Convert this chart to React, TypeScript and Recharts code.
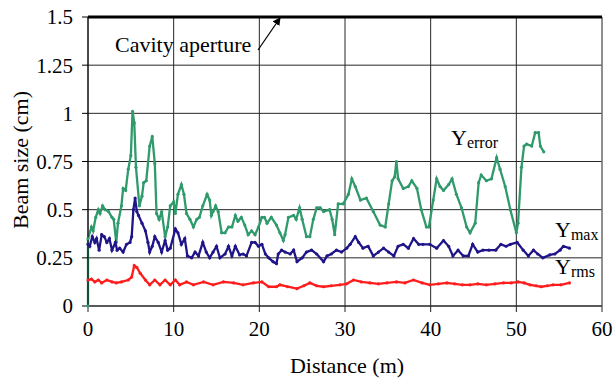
import { CartesianGrid, Line, LineChart, ReferenceLine, XAxis, YAxis } from "recharts";

const W = 615;
const H = 379;
const FONT = "Liberation Serif, Times New Roman, serif";

const xTicks = [0, 10, 20, 30, 40, 50, 60];
const yTicks = [0, 0.25, 0.5, 0.75, 1, 1.25, 1.5];
const cavityAperture = 1.5;

// [distance (m), beam size (cm)]
const yError: [number, number][] = [
  [0, 0], [0, 0.35], [0.4, 0.41], [0.6, 0.39], [0.9, 0.46], [1.2, 0.5], [1.4, 0.48], [1.7, 0.52],
  [2.0, 0.5], [2.4, 0.49], [2.8, 0.46], [3.0, 0.45], [3.3, 0.33], [3.5, 0.43], [3.9, 0.52], [4.1, 0.61],
  [4.4, 0.6], [4.7, 0.71], [5.0, 0.78], [5.2, 1.01], [5.4, 0.95], [5.6, 0.72], [6.0, 0.52], [6.3, 0.57],
  [6.5, 0.64], [6.8, 0.65], [7.2, 0.83], [7.5, 0.88], [7.8, 0.74], [8.0, 0.48], [8.3, 0.45], [8.6, 0.49],
  [9.0, 0.36], [9.3, 0.41], [9.6, 0.52], [10.0, 0.54], [10.2, 0.48], [10.5, 0.58], [10.9, 0.63], [11.2, 0.58],
  [11.5, 0.48], [11.9, 0.45], [12.3, 0.41], [12.7, 0.45], [13.0, 0.46], [13.4, 0.52], [13.9, 0.58], [14.2, 0.55],
  [14.4, 0.47], [14.6, 0.49], [14.9, 0.52], [15.2, 0.49], [15.6, 0.38], [16.0, 0.38], [16.4, 0.41], [16.8, 0.41],
  [17.2, 0.47], [17.5, 0.44], [17.9, 0.46], [18.3, 0.42], [18.7, 0.37], [19.1, 0.39], [19.5, 0.37], [19.9, 0.41],
  [20.3, 0.46], [20.6, 0.46], [20.9, 0.43], [21.4, 0.46], [22.0, 0.42], [22.4, 0.38], [22.8, 0.34], [23.0, 0.37],
  [23.4, 0.46], [24.0, 0.47], [24.3, 0.45], [24.7, 0.51], [25.0, 0.45], [25.5, 0.36], [25.9, 0.36], [26.3, 0.45],
  [26.7, 0.51], [27.1, 0.51], [27.5, 0.49], [28.2, 0.5], [28.5, 0.45], [28.8, 0.37], [29.2, 0.53], [29.8, 0.53],
  [30.4, 0.58], [30.8, 0.66], [31.2, 0.62], [31.8, 0.55], [32.5, 0.56], [33.3, 0.49], [34.1, 0.42], [34.7, 0.41],
  [35.1, 0.53], [35.5, 0.65], [35.8, 0.67], [36.0, 0.75], [36.2, 0.66], [36.8, 0.61], [37.4, 0.62], [37.8, 0.65],
  [38.4, 0.61], [38.9, 0.5], [39.5, 0.41], [39.8, 0.41], [40.3, 0.55], [40.7, 0.66], [41.1, 0.62], [41.5, 0.6],
  [42.1, 0.63], [42.5, 0.66], [43.0, 0.58], [43.6, 0.51], [44.2, 0.41], [44.6, 0.38], [45.2, 0.43], [45.6, 0.64],
  [45.9, 0.68], [46.5, 0.65], [47.1, 0.66], [47.7, 0.77], [48.1, 0.71], [48.7, 0.62], [49.3, 0.5], [50.0, 0.38],
  [50.2, 0.43], [50.6, 0.72], [50.9, 0.83], [51.2, 0.84], [51.8, 0.83], [52.2, 0.9], [52.6, 0.9], [52.8, 0.83],
  [53.2, 0.8],
];

const yMax: [number, number][] = [
  [0, 0.32], [0.2, 0.31], [0.5, 0.36], [0.8, 0.33], [1.0, 0.35], [1.3, 0.29], [1.6, 0.37], [1.9, 0.36],
  [2.2, 0.33], [2.5, 0.35], [2.8, 0.29], [3.2, 0.33], [3.4, 0.29], [3.7, 0.3], [4.1, 0.28], [4.5, 0.32],
  [4.9, 0.33], [5.1, 0.36], [5.3, 0.5], [5.5, 0.56], [5.7, 0.49], [5.9, 0.47], [6.3, 0.43], [6.7, 0.39],
  [7.0, 0.33], [7.2, 0.28], [7.5, 0.31], [7.8, 0.36], [8.2, 0.33], [8.6, 0.28], [9.0, 0.34], [9.3, 0.29],
  [9.6, 0.3], [10.2, 0.4], [10.5, 0.38], [10.9, 0.32], [11.3, 0.35], [11.6, 0.26], [12.1, 0.25], [12.5, 0.28],
  [12.9, 0.26], [13.4, 0.33], [13.8, 0.28], [14.2, 0.25], [14.6, 0.28], [15.0, 0.31], [15.4, 0.25], [16.0, 0.27],
  [16.4, 0.31], [16.8, 0.26], [17.2, 0.31], [17.7, 0.265], [18.1, 0.27], [18.5, 0.26], [19.1, 0.33], [19.5, 0.33],
  [19.9, 0.31], [20.3, 0.32], [20.7, 0.27], [21.1, 0.25], [21.6, 0.23], [22.0, 0.22], [22.2, 0.27], [22.6, 0.29],
  [23.0, 0.28], [23.6, 0.27], [24.0, 0.29], [24.4, 0.23], [25.0, 0.25], [25.5, 0.28], [26.1, 0.29], [26.7, 0.27],
  [27.5, 0.23], [27.9, 0.26], [28.4, 0.27], [29.0, 0.29], [29.6, 0.28], [30.2, 0.3], [30.6, 0.32], [31.2, 0.36],
  [31.6, 0.33], [32.1, 0.3], [32.7, 0.31], [33.3, 0.26], [33.9, 0.28], [34.5, 0.3], [35.1, 0.28], [35.7, 0.26],
  [36.2, 0.31], [36.8, 0.32], [37.4, 0.3], [38.0, 0.35], [38.6, 0.32], [39.1, 0.32], [39.9, 0.32], [40.7, 0.3],
  [41.5, 0.34], [42.1, 0.31], [42.6, 0.26], [43.2, 0.29], [43.8, 0.26], [44.4, 0.26], [44.9, 0.32], [45.5, 0.28],
  [46.1, 0.29], [46.8, 0.29], [47.6, 0.29], [48.2, 0.32], [48.8, 0.31], [49.3, 0.32], [50.1, 0.33], [50.8, 0.29],
  [51.4, 0.26], [52.0, 0.29], [52.5, 0.27], [53.1, 0.25], [53.9, 0.265], [54.5, 0.27], [55.1, 0.29], [55.5, 0.31],
  [56.2, 0.3],
];

const yRms: [number, number][] = [
  [0, 0.135], [0.4, 0.14], [0.8, 0.125], [1.2, 0.135], [1.6, 0.12], [2.2, 0.135], [2.8, 0.125], [3.3, 0.12],
  [3.9, 0.125], [4.7, 0.135], [5.1, 0.15], [5.4, 0.21], [5.7, 0.2], [6.1, 0.17], [6.7, 0.135], [7.2, 0.11],
  [7.8, 0.135], [8.4, 0.11], [9.0, 0.135], [9.6, 0.11], [10.2, 0.135], [10.7, 0.11], [11.5, 0.125], [12.3, 0.11],
  [13.5, 0.125], [14.6, 0.11], [15.8, 0.125], [17.0, 0.12], [18.1, 0.11], [19.3, 0.12], [20.3, 0.125], [21.1, 0.1],
  [22.0, 0.1], [22.4, 0.11], [23.3, 0.1], [24.4, 0.09], [25.2, 0.105], [25.9, 0.12], [26.7, 0.105], [27.5, 0.1],
  [28.4, 0.105], [29.4, 0.11], [30.2, 0.115], [31.0, 0.135], [31.9, 0.125], [32.9, 0.12], [33.9, 0.115], [34.9, 0.12],
  [36.0, 0.125], [37.0, 0.12], [38.0, 0.135], [39.0, 0.12], [39.9, 0.11], [40.9, 0.115], [41.9, 0.12], [42.8, 0.115],
  [43.7, 0.11], [44.6, 0.11], [45.5, 0.115], [46.5, 0.11], [47.5, 0.115], [48.5, 0.12], [49.4, 0.12], [50.2, 0.125],
  [50.9, 0.12], [51.6, 0.11], [52.3, 0.105], [52.9, 0.1], [53.6, 0.105], [54.3, 0.11], [55.2, 0.11], [56.2, 0.12],
];

const toPoints = (pts: [number, number][]) => pts.map(([d, v]) => ({ d, v }));

const GREEN = "#2f9a6b";
const BLUE = "#1f1488";
const RED = "#ff1c1c";

const series = [
  { name: "Yerror", pts: yError, color: GREEN },
  { name: "Ymax", pts: yMax, color: BLUE },
  { name: "Yrms", pts: yRms, color: RED },
];

export default function App() {
  const tick = { fill: "#000", fontSize: 21, fontFamily: FONT };
  return (
    <div
      style={{ position: "absolute", left: 0, top: 0, width: W, height: H, background: "#fff", fontFamily: FONT }}
    >
      <LineChart width={W} height={H} margin={{ top: 17, right: 13, bottom: 0, left: 0 }}>
        <CartesianGrid stroke="#262626" strokeWidth={1} />
        <XAxis
          type="number"
          dataKey="d"
          domain={[0, 60]}
          ticks={xTicks}
          interval={0}
          height={73}
          tick={tick}
          tickSize={6}
          tickMargin={9}
          axisLine={{ stroke: "#222" }}
          tickLine={{ stroke: "#222" }}
        />
        <YAxis
          type="number"
          domain={[0, 1.5]}
          ticks={yTicks}
          interval={0}
          width={88}
          tick={tick}
          tickSize={6}
          tickMargin={9}
          axisLine={{ stroke: "#000" }}
          tickLine={{ stroke: "#000" }}
        />
        <ReferenceLine x={60} stroke="#8c8c8c" strokeWidth={1} />
        <ReferenceLine y={cavityAperture} stroke="#000" strokeWidth={3} />
        {series.map((s) => (
          <Line
            key={s.name}
            name={s.name}
            data={toPoints(s.pts)}
            dataKey="v"
            type="linear"
            stroke={s.color}
            strokeWidth={2.3}
            dot={{ r: 1.6, fill: s.color, stroke: "none" }}
            isAnimationActive={false}
          />
        ))}
      </LineChart>
      <svg
        width={W}
        height={H}
        style={{ position: "absolute", left: 0, top: 0, pointerEvents: "none" }}
        fontFamily={FONT}
      >
        <defs>
          <marker id="arrowHead" markerWidth="8" markerHeight="8" refX="7" refY="4" orient="auto" markerUnits="userSpaceOnUse">
            <path d="M0,0 L8,4 L0,8 Z" fill="#000" />
          </marker>
        </defs>
        <text x={115} y={52} fontSize={22} fill="#000">Cavity aperture</text>
        <line x1={258} y1={50} x2={280} y2={18} stroke="#000" strokeWidth={1.2} markerEnd="url(#arrowHead)" />
        <text x={451} y={145} fontSize={22} fill="#000">
          Y<tspan fontSize={16} dy={3}>error</tspan>
        </text>
        <text x={555} y={237} fontSize={22} fill="#000">
          Y<tspan fontSize={16} dy={3}>max</tspan>
        </text>
        <text x={555} y={274} fontSize={22} fill="#000">
          Y<tspan fontSize={16} dy={3}>rms</tspan>
        </text>
        <text x={347} y={373} fontSize={22} fill="#000" textAnchor="middle">Distance (m)</text>
        <text x={28} y={160} fontSize={22} fill="#000" textAnchor="middle" transform="rotate(-90 28 160)">
          Beam size (cm)
        </text>
      </svg>
    </div>
  );
}
